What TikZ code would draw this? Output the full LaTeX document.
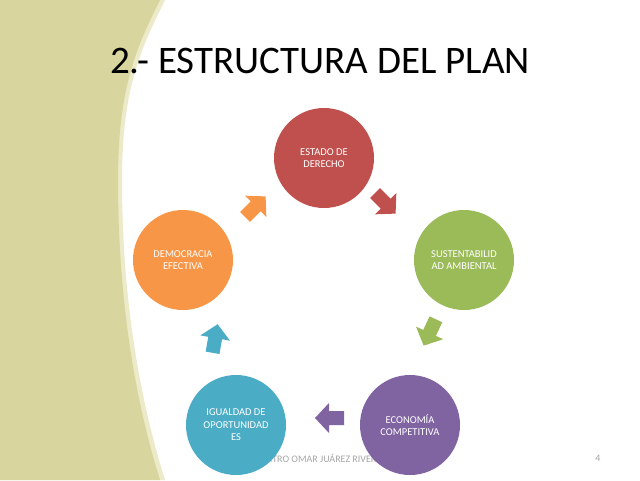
\documentclass[tikz,border=0pt]{standalone}
\usepackage{fontspec}
\setmainfont{Carlito}
\definecolor{bandlight}{RGB}{236,234,200}
\definecolor{band}{RGB}{216,213,158}
\begin{document}
\begin{tikzpicture}[x=1pt,y=-1pt,
  circ/.style={circle,minimum size=100pt,inner sep=0pt,text=white,align=center,font=\fontsize{10.5}{12.5}\selectfont},
  blockarrow/.pic={\fill[pic actions] (-14,-7) -- (1,-7) -- (1,-15) -- (15,0) -- (1,15) -- (1,7) -- (-14,7) -- cycle;}]
\useasboundingbox (0,0) rectangle (640,480);
\fill[white] (0,0) rectangle (640,480);
\fill[bandlight] (0,0) -- (165,0) .. controls (140,50) and (122,90) .. (122,180) .. controls (122,300) and (140,400) .. (165,480) -- (0,480) -- cycle;
\fill[band] (0,0) -- (160,0) .. controls (135,50) and (118,90) .. (118,180) .. controls (118,300) and (135,400) .. (160,480) -- (0,480) -- cycle;
\node[anchor=base,font=\fontsize{39}{44}\selectfont] (title) at (320,73) {2.- ESTRUCTURA DEL PLAN};
\node[text=gray!70,font=\fontsize{10}{12}\selectfont] (footer) at (323,458) {MTRO OMAR JUÁREZ RIVERA};
\node[text=gray!70,font=\fontsize{10}{12}\selectfont] (page) at (598,458) {4};
\node[circ,fill={rgb,255:red,192;green,80;blue,77}] (estado) at (324,158) {ESTADO DE\\DERECHO};
\node[circ,fill={rgb,255:red,155;green,187;blue,89}] (sust) at (464,260) {SUSTENTABILID\\AD AMBIENTAL};
\node[circ,fill={rgb,255:red,128;green,100;blue,162}] (econ) at (410,425) {ECONOMÍA\\COMPETITIVA};
\node[circ,fill={rgb,255:red,75;green,172;blue,198}] (igual) at (236,425) {IGUALDAD DE\\OPORTUNIDAD\\ES};
\node[circ,fill={rgb,255:red,247;green,150;blue,70}] (demo) at (183,260) {DEMOCRACIA\\EFECTIVA};
\pic[fill={rgb,255:red,192;green,80;blue,77},rotate=-45] at (385,203) {blockarrow};
\pic[fill={rgb,255:red,155;green,187;blue,89},rotate=-115] at (430,332) {blockarrow};
\pic[fill={rgb,255:red,128;green,100;blue,162},rotate=180] at (330,418) {blockarrow};
\pic[fill={rgb,255:red,75;green,172;blue,198},rotate=80] at (215,339) {blockarrow};
\pic[fill={rgb,255:red,247;green,150;blue,70},rotate=45] at (255,207) {blockarrow};
\end{tikzpicture}
\end{document}
